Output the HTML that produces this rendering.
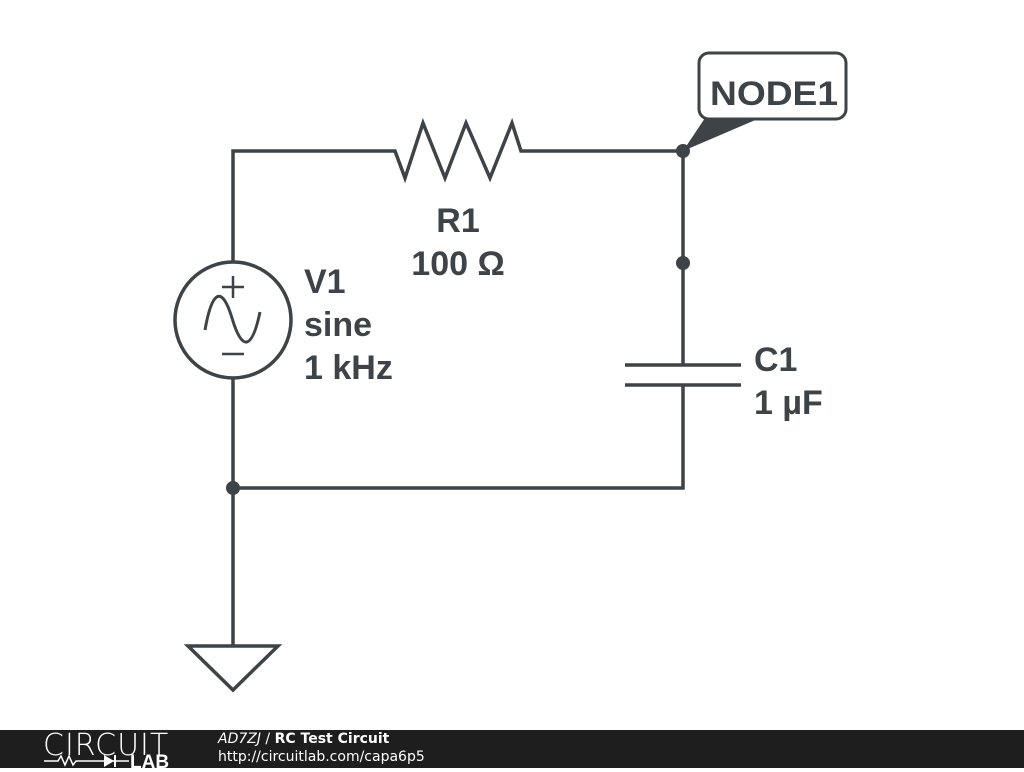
<!DOCTYPE html>
<html><head><style>
body{margin:0;width:1024px;height:768px;background:#fff;overflow:hidden;position:relative;font-family:"Liberation Sans",sans-serif}
#f{position:absolute;left:0;top:730px;width:1024px;height:38px;background:#1e1e1e;color:#fff;font-family:"DejaVu Sans",sans-serif}
</style></head><body>
<svg width="1024" height="730" style="position:absolute;left:0;top:0">
<g stroke="#3d4347" stroke-width="3.5" fill="none" stroke-linejoin="miter">
<polyline points="233,262 233,151 395,151 405,178 423,123 445,178 466,123 490,178 512,123 521,151 683,151 683,365"/>
<line x1="625" y1="365" x2="741" y2="365"/>
<line x1="625" y1="385" x2="741" y2="385"/>
<polyline points="683,385 683,488 233,488"/>
<line x1="233" y1="378" x2="233" y2="645"/>
<polygon points="188,646 278,646 233,690"/>
<circle cx="233" cy="320" r="58"/>
<path d="M205,330 C212,290 222,285 232,318 C242,352 252,350 260,312" stroke-width="3"/>
<line x1="222" y1="287" x2="244" y2="287" stroke-width="2.5"/>
<line x1="233" y1="276" x2="233" y2="298" stroke-width="2.5"/>
<line x1="222" y1="354" x2="244" y2="354" stroke-width="2.5"/>
<rect x="699" y="53" width="147" height="66" rx="10" stroke-width="3"/>
</g>
<polygon points="683,151 705,118 760,118" fill="#3d4347"/>
<g fill="#3d4347"><circle cx="683" cy="151" r="7"/><circle cx="683" cy="263" r="7"/><circle cx="233" cy="488" r="7"/></g>
<g fill="#3d4347" font-family="Liberation Sans,sans-serif" font-weight="bold" font-size="34">
<text x="710" y="105" textLength="128" lengthAdjust="spacingAndGlyphs">NODE1</text>
<text x="458" y="232" text-anchor="middle">R1</text>
<text x="458" y="275" text-anchor="middle">100 Ω</text>
<text x="304" y="293">V1</text>
<text x="304" y="336">sine</text>
<text x="304" y="379">1 kHz</text>
<text x="754" y="371">C1</text>
<text x="754" y="414">1 µF</text>
</g>
</svg>
<div id="f">
<div style="position:absolute;left:43px;top:-2px;font-size:30px;letter-spacing:1px;font-weight:300">CIRCUIT</div>
<div style="position:absolute;left:44px;top:22px;font-size:13px;width:130px;">
<svg width="130" height="16"><polyline points="0,9 14,9 17,4 21,13 25,4 29,13 32,9 40,9" stroke="#fff" fill="none" stroke-width="1.5"/><line x1="40" y1="9" x2="85" y2="9" stroke="#fff" stroke-width="1.5"/><polygon points="60,3 60,15 70,9" fill="#fff"/><line x1="71" y1="3" x2="71" y2="15" stroke="#fff" stroke-width="2"/><text x="86" y="16" fill="#fff" font-weight="bold" font-size="19" font-family="Liberation Sans,sans-serif">LAB</text></svg></div>
<div style="position:absolute;left:218px;top:1px;font-size:14px"><i>AD7ZJ</i> / <b>RC Test Circuit</b></div>
<div style="position:absolute;left:218px;top:19px;font-size:14px">http://circuitlab.com/capa6p5</div>
</div>
</body></html>
